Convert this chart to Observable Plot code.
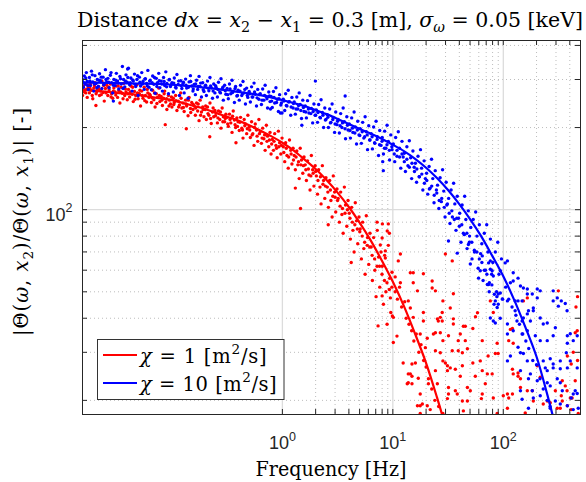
<!DOCTYPE html>
<html><head><meta charset="utf-8">
<script src="https://cdn.jsdelivr.net/npm/d3@7"></script>
<script src="https://cdn.jsdelivr.net/npm/@observablehq/plot@0.6"></script>
<style>
html,body{margin:0;padding:0;background:#fff;}
#chart svg{display:block;}
</style></head><body><div id="chart"></div>
<script>
// ---------- axis ticks ----------
const xMajor = [1, 10, 100];
const xMinor = [2,3,4,5,6,7,8,9,20,30,40,50,60,70,80,90,200,300,400,500];
const yMajor = [100];
const yMinor = [20,30,40,50,60,70,80,90,200,300,400];
const xDomain = [0.0155, 500];
const yDomain = [17.75, 417];

// ---------- fitted curves ----------
const redLineF  = [0.0155,0.02,0.025,0.0316,0.04,0.05,0.063,0.079,0.1,0.126,0.158,0.2,0.251,0.316,0.398,0.5,0.63,0.79,1.0,1.26,1.58,2.0,2.51,3.16,3.98,5.0,6.3,7.9,10,12.6,15.8,20,25.1,31.6];
const redLineV  = [275,273,271,268,266,263,259,256,252,246,240,234,226,219,212,204,195,186,176,165,153,141,128.4,115.5,102.5,89.7,77.2,65.4,54.4,44.3,35.3,27.4,20.5,14.9];
const blueLineF = [0.0155,0.02,0.0316,0.05,0.079,0.1,0.126,0.158,0.2,0.251,0.316,0.398,0.5,0.63,0.79,1.0,1.26,1.58,2.0,2.51,3.16,3.98,5.0,6.3,7.9,10,12.6,15.8,20,25.1,31.6,39.8,50,63,79,100,126,158,200,251,316];
const blueLineV = [292,292,291,290,289,287,285,283,280,277,274,270,267,263,258,252,246,240,232,224,215,206,198,190,182,173,164,154,142.5,130.6,118,105,92.4,80,68,57,46.5,37.2,28.9,20.9,14.5];

// ---------- measured points: chi = 1 ----------
const redNear = [
[0.0155,262],[0.0158,284],[0.0161,270],[0.0164,291],[0.0168,276],[0.0171,258],[0.0175,281],
[0.0179,268],[0.0183,288],[0.0187,274],[0.0192,255],[0.0196,279],[0.0201,292],[0.0206,266],[0.0211,277],[0.0205,241],
[0.0216,283],[0.0221,262],[0.0226,272],[0.0232,296],[0.0238,269],[0.0244,250],[0.0250,278],[0.0257,286],
[0.0263,262],[0.0270,275],[0.0277,289],[0.0284,266],[0.0291,256],[0.0298,279],[0.0306,270],[0.0314,284],
[0.0322,258],[0.0330,273],[0.0338,246],[0.0347,281],[0.0356,267],[0.0365,290],[0.0374,262],[0.0384,270],[0.0394,253],
[0.0404,276],[0.0414,259],[0.0425,284],[0.0436,265],[0.0447,249],[0.0458,271],[0.0470,262],[0.0482,287],[0.0494,255],
[0.0507,266],[0.052,240],[0.0533,272],[0.0547,256],[0.0561,281],[0.0575,262],[0.059,248],[0.0605,268],[0.062,258],
[0.0636,262],[0.0652,247],[0.0669,274],[0.0686,253],[0.0704,238],[0.0722,266],[0.074,258],[0.0759,279],[0.0778,249],
[0.080,260],[0.082,241],[0.084,256],[0.086,272],[0.088,248],[0.090,233],[0.093,262],[0.095,252],[0.097,244],[0.087,205],
[0.100,238],[0.103,256],[0.105,247],[0.108,262],[0.111,231],[0.114,250],[0.117,242],[0.120,268],[0.123,236],
[0.126,246],[0.129,229],[0.133,252],[0.136,240],[0.140,221],[0.143,258],[0.147,235],[0.151,247],[0.155,233],[0.135,198],
[0.159,240],[0.163,222],[0.167,246],[0.171,230],[0.176,212],[0.180,252],[0.185,228],[0.190,238],[0.195,219],
[0.200,233],[0.205,214],[0.210,238],[0.216,222],[0.221,246],[0.227,207],[0.233,228],[0.239,219],[0.245,231],[0.22,185],
[0.251,226],[0.258,208],[0.264,230],[0.271,214],[0.278,199],[0.285,236],[0.292,219],[0.300,210],[0.308,224],
[0.316,218],[0.324,202],[0.332,224],[0.341,208],[0.350,192],[0.359,230],[0.368,213],[0.377,200],[0.387,217],[0.38,176],
[0.397,210],[0.407,195],[0.418,218],[0.429,199],[0.440,183],[0.451,214],[0.463,206],[0.475,190],[0.487,222],
[0.50,201],[0.513,184],[0.526,210],[0.54,190],[0.554,172],[0.568,206],[0.583,196],[0.598,178],[0.613,214],
[0.63,193],[0.646,175],[0.663,199],[0.68,182],[0.698,165],[0.716,204],[0.734,186],[0.753,170],[0.773,192],[0.79,160],
[0.81,181],[0.83,165],[0.852,190],[0.874,172],[0.897,155],[0.92,194],[0.944,176],[0.968,160],[0.993,183],
[1.02,170],[1.05,150],[1.07,176],[1.10,158],[1.13,142],[1.16,180],[1.19,165],[1.22,147],[1.25,168],
[1.28,158],[1.31,140],[1.35,164],[1.38,146],[1.42,130],[1.45,168],[1.49,152],[1.53,136],[1.57,156],[1.31,120],[1.46,101],
[1.61,146],[1.65,128],[1.69,151],[1.74,134],[1.78,118],[1.83,158],[1.88,140],[1.93,122],[1.98,145],
[2.03,133],[2.08,114],[2.13,140],[2.19,121],[2.24,105],[2.30,145],[2.36,128],[2.42,110],[2.48,131],
[2.55,121],[2.61,102],[2.68,128],[2.75,108],[2.82,94],[2.89,133],[2.97,116],[3.04,98],[3.12,119],[2.6,88],
[3.20,110],[3.28,90],[3.37,116],[3.46,96],[3.55,82],[3.64,121],[3.73,104],[3.83,87],[3.93,108],
[4.03,97],[4.13,78],[4.24,102],[4.35,84],[4.46,70],[4.57,106],[4.69,91],[4.81,75],[4.94,94],[4.2,64],
[5.06,85],[5.19,66],[5.33,90],[5.46,72],[5.61,58],[5.75,95],[5.90,79],[6.05,63],[6.21,82],
[6.37,73],[6.53,55],[6.70,79],[6.87,60],[7.05,48],[7.23,84],[7.42,67],[7.61,52],[7.81,70],[7.2,90],
[8.01,62],[8.22,45],[8.43,68],[8.65,50],[8.87,38],[9.1,74],[9.34,56],[9.58,42],[9.83,59],[9.3,82],
[10.5,50],[11,47],[11.5,52],[12,44],[12.8,46],[13.2,40],[14,38],[14.8,36],[15.5,33],[16.3,35],[17.2,30],[18,32],[19,28],[20,26.5],[21,24],[22.5,22],[24,20],[26,19]
];
const redExtra = [
[0.0157,277],[0.0166,268],[0.0173,286],[0.0181,279],[0.0190,262],[0.0199,284],[0.0209,271],[0.0219,276],[0.0229,264],[0.0241,285],
[0.0253,268],[0.0267,281],[0.0281,259],[0.0295,272],[0.0310,263],[0.0326,284],[0.0343,270],[0.0361,255],[0.0379,277],[0.0399,266],
[0.0419,270],[0.0441,281],[0.0464,254],[0.0488,268],[0.0513,274],[0.054,262],[0.0568,251],[0.0598,276],[0.0628,265],[0.0661,257],
[0.0695,268],[0.0731,245],[0.0769,262],[0.081,252],[0.085,266],[0.0895,255],[0.094,240],[0.099,259],
[0.104,243],[0.109,251],[0.115,238],[0.121,256],[0.127,237],[0.134,244],[0.141,252],[0.148,227],[0.156,243],[0.164,236],
[0.173,244],[0.182,222],[0.192,233],[0.202,240],[0.212,225],[0.224,216],[0.236,236],[0.248,221],[0.261,217],[0.275,228],
[0.289,210],[0.304,216],[0.32,206],[0.336,214],[0.354,220],[0.373,205],[0.392,202],[0.413,209],[0.435,196],[0.457,203],[0.481,198],
[0.506,196],[0.532,188],[0.56,200],[0.59,186],[0.62,190],[0.655,183],[0.69,188],[0.725,178],[0.763,180],[0.80,174],
[0.84,178],[0.885,168],[0.93,170],[0.98,172],[1.03,162],[1.085,168],[1.14,156],[1.20,160],[1.26,152],[1.33,156],
[1.40,150],[1.47,146],[1.55,145],[1.63,140],[1.72,141],[1.81,133],[1.9,136],[2.0,138],[2.1,128],[2.21,132],
[2.33,124],[2.45,122],[2.58,116],[2.72,118],[2.86,112],[3.0,111],
[3.16,108],[3.33,103],[3.5,101],[3.69,97],[3.88,100],[4.09,93],[4.3,90],[4.53,88],[4.77,85],[5.02,83],
[5.28,80],[5.56,76],[5.86,74],[6.17,73],[6.49,68],[6.84,66],[7.2,62],[7.58,62],[7.98,58],[8.4,55],[8.85,54],[9.3,51],[9.8,52]
];
const redCloud = [
[8.04,88.7],[9.1,88.7],[8.9,83.5],[8.0,78.7],[7.7,74.2],[8.55,70.6],[8.55,66.5],[11.7,68.8],[11.2,64.9],[10.5,56.7],
[8.0,48.3],[9.5,47.5],[11.7,54],[15.3,58.7],[18.9,58.2],[22.7,51.6],[16.7,50.4],[13.8,46.3],[14.4,43.6],[15.3,40.3],
[18.9,42],[17.7,35],[26.9,40.3],[25.8,39.1],[33.1,43.6],[35.3,38.1],[45.3,37.4],[58.4,41.9],[10.1,40.3],[10.1,32.6],
[12.4,27.4],[16.0,27.4],[13.8,25],[14.9,23],[17.7,21.1],[21.8,18.5],[17.7,19.1],[24.3,25.7],[28.4,27.9],[34.5,30.4],
[39.1,33.1],[42.6,29.9],[31.2,26.8],[31.9,21.1],[38.3,21.1],[50.3,21.7],[47.3,19.9],[61.9,27.9],[71.7,25],[84.7,29.7],
[89.9,29.7],[64.5,21.1],[81.2,20.4],[109,21.1],[123,25],[136,25.2],[165,21.7],[183,21.7],[187,19.9],[109,18.7],
[43.5,18.3],[33.1,26.3],[28.4,33.1],[23.3,35],[18.9,39.1],[24.3,30.4],[40.8,35],[88,32.4],[34.5,64.9],[28,39.1],
[123,32.4],[342,23.6],[378,21.7],[448,23.6],[404,20.4],[477,17.9],[342,19.9],[250,19.9],[308,18.7],[121,36.7],
[35.3,49.2],[28.4,46.3],[28,42],[35.3,39.8],[26.9,35.4],[31.9,34.5],[43.5,37.4],[53,36.7],[45.3,33.1],[64.5,33.1],
[81.2,42],[56,40.5],[76.3,46.3],[39.1,30.4],[47.3,30.9],[31.2,25.7],[36.8,26],[42.6,26.8],[40.8,24.5],[53,27.4],
[72.9,29.1],[79.3,25],[55.8,24.5],[64.5,25.7],[68.7,23],[31.9,22.3],[47.3,22.3],[36.8,21.7],[31.2,20.3],[42.6,19.9],
[63.3,20.3],[100,20.8],[112,20.4],[121,21.1],[143,24],[136,24.5],[121,26],[112,33.1],[116,36.4],[165,47.5],
[152,46.3],[315,50.4],[143,22.3],[203,26.8],[216,24.3],[230,19.4],[266,19.6],[296,21.7],[335,20.8],[420,20.4],
[328,18.7],[380,19.1],[412,18.5],[448,35.4],[467,36],[380,29.1],[412,27.2],[364,22.6],[28.4,17.9],[88,17.9],
[158,18],[29.9,68.8],[7.35,37.5],[9.9,40.8],[10.9,34.4],[14.9,24.5],[13.5,23],[16.7,19.1],[17.7,17.9],
[14.4,58.7],[15.3,54],[22.7,54.8],[24.3,50.4],[25.3,39.8],[24.3,35.4],[20.5,33.8],[19.7,31.2],[26.9,29.9],[29.9,27.4],
[21,23],[25.3,23],[17,24.1],[14.4,25],[14.9,27.2],[13.8,23.2],[18.5,19.4],[20.5,19.1],
[470,48],[455,44],[430,30],[470,28]
];

// ---------- measured points: chi = 10 ----------
const blueNear = [
[0.0155,300],[0.0158,281],[0.0161,309],[0.0164,288],[0.0168,318],[0.0171,296],[0.0175,276],
[0.0179,305],[0.0183,285],[0.0187,322],[0.0192,294],[0.0196,272],[0.0201,310],[0.0206,290],[0.0211,300],
[0.0216,283],[0.0221,315],[0.0226,297],[0.0232,278],[0.0238,306],[0.0244,289],[0.0250,326],[0.0257,294],
[0.0263,303],[0.0270,280],[0.0277,311],[0.0284,292],[0.0291,268],[0.0298,300],[0.0306,285],[0.0314,316],[0.0295,250],
[0.0322,296],[0.0330,277],[0.0338,308],[0.0347,289],[0.0356,335],[0.0365,300],[0.0374,282],[0.0384,312],[0.0394,293],[0.0397,328],
[0.0404,330],[0.0414,287],[0.0425,304],[0.0436,272],[0.0447,296],[0.0458,314],[0.0470,283],[0.0482,300],[0.0494,262],
[0.0507,306],[0.052,284],[0.0533,318],[0.0547,295],[0.0561,276],[0.0575,302],[0.059,290],[0.0605,324],[0.062,281],
[0.0636,298],[0.0652,275],[0.0669,309],[0.0686,288],[0.0704,267],[0.0722,303],[0.074,292],[0.0759,316],[0.0778,280],
[0.080,296],[0.082,272],[0.084,305],[0.086,285],[0.088,320],[0.090,290],[0.093,266],[0.095,300],[0.097,283],
[0.100,292],[0.103,270],[0.105,304],[0.108,281],[0.111,313],[0.114,288],[0.117,262],[0.120,297],[0.123,278],
[0.126,290],[0.129,268],[0.133,301],[0.136,279],[0.140,256],[0.143,294],[0.147,310],[0.151,284],[0.155,272],
[0.159,288],[0.163,264],[0.167,298],[0.171,276],[0.176,308],[0.180,283],[0.185,259],[0.190,292],[0.195,271],
[0.200,284],[0.205,262],[0.210,296],[0.216,273],[0.221,305],[0.227,280],[0.233,256],[0.239,289],[0.245,268],
[0.251,281],[0.258,259],[0.264,293],[0.271,270],[0.278,302],[0.285,277],[0.292,252],[0.300,286],[0.308,265],
[0.316,278],[0.324,255],[0.332,289],[0.341,266],[0.350,298],[0.359,272],[0.368,247],[0.377,283],[0.387,261],
[0.397,274],[0.407,252],[0.418,286],[0.429,262],[0.440,295],[0.451,268],[0.463,244],[0.475,279],[0.487,258],
[0.50,271],[0.513,248],[0.526,282],[0.54,259],[0.554,291],[0.568,265],[0.583,240],[0.598,276],[0.613,254],
[0.63,266],[0.646,243],[0.663,277],[0.68,252],[0.698,286],[0.716,260],[0.734,236],[0.753,270],[0.773,249],[0.78,234],
[0.79,260],[0.81,237],[0.83,271],[0.852,246],[0.874,280],[0.897,254],[0.92,229],[0.944,264],[0.968,242],[0.993,226],[0.96,226],
[1.02,254],[1.05,231],[1.07,266],[1.10,240],[1.13,274],[1.16,249],[1.19,222],[1.22,258],[1.25,236],
[1.28,248],[1.31,224],[1.35,259],[1.38,234],[1.42,268],[1.45,243],[1.49,216],[1.53,252],[1.57,229],[1.5,204],
[1.61,240],[1.65,217],[1.69,251],[1.74,226],[1.78,262],[1.83,235],[1.88,208],[1.93,244],[1.98,222],[1.99,296],
[2.03,232],[2.08,209],[2.13,243],[2.19,218],[2.24,253],[2.30,227],[2.36,200],[2.42,236],[2.48,214],
[2.55,223],[2.61,200],[2.68,234],[2.75,209],[2.82,244],[2.89,218],[2.97,192],[3.04,228],[3.12,205],
[3.20,214],[3.28,191],[3.37,225],[3.46,200],[3.55,236],[3.64,210],[3.73,182],[3.83,219],[3.93,196],[3.7,261],
[4.03,206],[4.13,183],[4.24,217],[4.35,192],[4.46,228],[4.57,201],[4.69,174],[4.81,211],[4.94,188],
[5.06,198],[5.19,175],[5.33,209],[5.46,183],[5.61,219],[5.75,193],[5.90,166],[6.05,203],[6.21,180],
[6.37,190],[6.53,167],[6.70,201],[6.87,175],[7.05,211],[7.23,185],[7.42,158],[7.61,195],[7.81,172],
[8.01,184],[8.22,160],[8.43,194],[8.65,168],[8.87,204],[8.1,150],[9.1,178],[9.34,152],[9.58,188],[9.83,166],[8.2,139],
[10.1,174],[10.4,150],[10.6,184],[10.9,157],[11.2,193],[11.5,168],[11.8,142],[12.1,178],[12.4,156],
[12.7,161],[13.0,138],[13.4,170],[13.7,145],[14.1,179],[14.5,155],[14.8,130],[15.2,164],[15.6,143],
[16.0,148],[16.4,126],[16.9,157],[17.3,132],[17.8,166],[18.2,142],[18.7,118],[19.2,151],[19.7,130],
[20.2,136],[20.7,114],[21.3,144],[21.8,120],[22.4,153],[23.0,130],[23.6,106],[24.2,139],[24.8,118],
[25.4,123],[26.1,101],[26.8,131],[27.5,107],[28.2,140],[28.9,117],[29.7,94],[30.4,126],[31.2,105],
[32.0,110],[32.9,89],[33.7,118],[34.6,94],[35.5,125],[36.4,105],[37.3,84],[38.3,112],[39.3,93],
[40.3,97],[41.4,76],[42.4,104],[43.5,82],[44.7,112],[45.8,92],[47.0,72],[48.2,99],[49.5,80],
[50.8,86],[52.1,66],[53.4,92],[54.8,70],[56.2,98],[57.7,80],[59.2,61],[60.7,88],[62.3,69],
[63.9,75],[65.6,55],[67.3,82],[69.0,60],[70.8,88],[72.6,70],[74.5,50],[76.4,78],[78.4,58],
[80.4,64],[82.5,45],[84.7,70],[86.9,50],[89.1,76],[91.4,58],[93.8,40],[96.2,66],[98.7,47],
[105,52],[112,47],[120,44],[130,41],[140,38],[150,35],[160,33],[170,31],[185,28],[200,27],[215,24],[230,22],[250,20],[265,19]
];
const blueExtra = [
[0.0157,293],[0.0166,304],[0.0173,285],[0.0181,296],[0.0190,312],[0.0199,289],[0.0209,280],[0.0219,298],[0.0229,306],[0.0241,287],
[0.0253,300],[0.0267,293],[0.0281,318],[0.0295,286],[0.0310,298],[0.0326,291],[0.0343,302],[0.0361,278],[0.0379,296],[0.0399,305],
[0.0419,292],[0.0441,299],[0.0464,288],[0.0488,310],[0.0513,293],[0.054,289],[0.0568,301],[0.0598,284],[0.0628,296],[0.0661,292],
[0.0695,305],[0.0731,283],[0.0769,297],[0.081,289],[0.085,295],[0.0895,282],[0.094,299],[0.099,288],
[0.104,291],[0.109,279],[0.115,296],[0.121,285],[0.127,293],[0.134,286],[0.141,281],[0.148,295],[0.156,277],[0.164,289],
[0.173,283],[0.182,291],[0.192,275],[0.202,286],[0.212,279],[0.224,284],[0.236,272],[0.248,285],[0.261,276],[0.275,268],
[0.289,281],[0.304,273],[0.32,264],[0.336,277],[0.354,269],[0.373,278],[0.392,262],[0.413,272],[0.435,266],[0.457,276],[0.481,262],
[0.506,266],[0.532,259],[0.56,270],[0.59,257],[0.62,264],[0.655,252],[0.69,262],[0.725,255],[0.763,261],[0.80,250],
[0.84,258],[0.885,247],[0.93,255],[0.98,246],[1.03,250],[1.085,241],[1.14,248],[1.20,238],[1.26,245],[1.33,234],
[1.40,241],[1.47,231],[1.55,237],[1.63,228],[1.72,234],[1.81,225],[1.9,229],[2.0,222],[2.1,227],[2.21,217],
[2.33,222],[2.45,213],[2.58,218],[2.72,208],[2.86,214],[3.0,206],
[3.16,211],[3.33,203],[3.5,208],[3.69,198],[3.88,204],[4.09,195],[4.3,199],[4.53,191],[4.77,196],[5.02,187],
[5.28,193],[5.56,185],[5.86,188],[6.17,180],[6.49,185],[6.84,176],[7.2,181],[7.58,173],[7.98,178],[8.4,168],
[8.85,173],[9.3,165],[9.8,170],[10.3,160],[10.9,165],[11.5,156],[12.1,160],[12.7,150],[13.4,153],[14.1,143],
[14.9,148],[15.7,138],[16.5,141],[17.4,132],[18.3,135],[19.3,125],[20.3,128],[21.4,119],[22.5,122],[23.7,113],
[25,115],[26.3,108],[27.7,110],[29.2,102],[30.8,104],
[32.4,97],[34.2,99],[36,92],[37.9,93],[40,87],[42.1,88],[44.4,81],[46.8,82],[49.3,76],[51.9,76],
[54.7,71],[57.6,70],[60.7,66],[64,64],[67.4,60],[71,58],[74.8,54],[78.8,53],[83,49],[87.5,48]
];
const blueCloud = [
[38.3,69.3],[50.3,63.2],[59.7,56.1],[71.7,53.2],[64.5,67.7],[76.3,60.5],[81.2,57.1],[94,59.7],[104,63.8],[109,64.9],
[123,58.7],[136,56.1],[143,52.5],[116,54],[94,49.5],[98,47.1],[90,45],[128,46.3],[148,46.3],[165,51.2],
[183,49.1],[203,51.2],[216,50.4],[203,47.5],[169,42.6],[187,42.6],[148,39.1],[176,39.1],[216,40.1],[250,38.4],
[84.7,38.4],[109,38.1],[123,36],[165,36],[195,34.5],[216,33.1],[250,33.1],[283,34.5],[296,36.9],[308,47.5],
[315,44.3],[335,46.3],[378,42.6],[283,50.4],[380,34.5],[380,32.4],[109,27.9],[116,29.1],[136,31.3],[152,29.7],
[143,25.7],[169,24],[143,21.7],[148,20.2],[183,21.7],[230,27.9],[266,28.4],[283,27.2],[240,26.3],[328,26.1],
[380,26.3],[404,27.9],[308,24],[328,23.2],[266,22.6],[250,23.2],[216,20.8],[296,19.9],[328,19.4],[380,19.1],
[448,21.7],[467,21.2],[412,20.4],[477,18.7],[430,18.5],[266,18.7],[187,20.4],[169,18.7],
[283,46.3],[364,45.3],[404,35.1],[430,33.1],[467,34.5],[372,29.9],[467,26.3],[328,27.9],[283,26.3],[342,21.7],
[430,21.1],[203,23.6],[250,25.7],[165,27.9],[176,25],[143,29.9],[148,35],[133,39.1],[152,40.1],[165,41.5],
[187,43.6],[230,38.1],[136,46.3],[128,42.6],[109,46.3],[88,43.8],[84.7,46.3],[76.3,40.1],[73.6,53.2],[79.3,59.7],
[90,49.1],[76.3,64.9],[61.9,59.7],[73.6,63.8],[81.2,39.1],[152,51.6],[165,49.1],[123,54.8],
[31.9,76.8],[48.3,74.5],[109,35]
];

// ---------- text ----------
const legendLabels = ["1", "10"];
const RED = "#ff0000", BLUE = "#0000ff";
const SERIF = "'DejaVu Serif', serif";
const SANS = "'Liberation Sans', Arial, sans-serif";

const W = 586, H = 482, ML = 82, MR = 6, MT = 40, MB = 68;
const innerW = W - ML - MR, innerH = H - MT - MB;

const redLine = redLineF.map((f, i) => ({f, v: redLineV[i]}));
const blueLine = blueLineF.map((f, i) => ({f, v: blueLineV[i]}));
const redPts = redNear.concat(redExtra, redCloud);
const bluePts = blueNear.concat(blueExtra, blueCloud);
const xTicks = xMajor.concat(xMinor);
const yTicks = yMajor.concat(yMinor);
const axisColor = "#262626";

const chart = Plot.plot({
  width: W, height: H,
  marginLeft: ML, marginRight: MR, marginTop: MT, marginBottom: MB,
  x: {type: "log", domain: xDomain, axis: null},
  y: {type: "log", domain: yDomain, axis: null},
  style: {fontFamily: SANS, fontSize: "18px", color: axisColor, background: "#fff", overflow: "visible"},
  marks: [
    Plot.ruleX(xMinor, {x: d => d, stroke: "#bdbdbd", strokeDasharray: "1,3", strokeWidth: 1}),
    Plot.ruleY(yMinor, {y: d => d, stroke: "#bdbdbd", strokeDasharray: "1,3", strokeWidth: 1}),
    Plot.ruleX(xMajor, {x: d => d, stroke: "#dcdcdc", strokeWidth: 1.3}),
    Plot.ruleY(yMajor, {y: d => d, stroke: "#dcdcdc", strokeWidth: 1.3}),
    Plot.dot(redPts, {x: d => d[0], y: d => d[1], r: 1.7, fill: RED, stroke: null, clip: true}),
    Plot.line(redLine, {x: "f", y: "v", stroke: RED, strokeWidth: 2.2, curve: "catmull-rom", clip: true}),
    Plot.dot(bluePts, {x: d => d[0], y: d => d[1], r: 1.7, fill: BLUE, stroke: null, clip: true}),
    Plot.line(blueLine, {x: "f", y: "v", stroke: BLUE, strokeWidth: 2.2, curve: "catmull-rom", clip: true}),
    Plot.frame({stroke: axisColor, strokeWidth: 1}),
    Plot.tickX(xTicks, {x: d => d, insetTop: innerH - 5, stroke: axisColor}),
    Plot.tickX(xTicks, {x: d => d, insetBottom: innerH - 5, stroke: axisColor}),
    Plot.tickY(yTicks, {y: d => d, insetRight: innerW - 5, stroke: axisColor}),
    Plot.tickY(yTicks, {y: d => d, insetLeft: innerW - 5, stroke: axisColor}),
    Plot.text(xMajor, {x: d => d, frameAnchor: "bottom", lineAnchor: "top", dy: 22, fontSize: 18,
      text: d => String(Math.round(Math.log10(d))), fill: axisColor, ariaLabel: () => "x-tick-label"}),
    Plot.text(yMajor, {y: d => d, frameAnchor: "left", textAnchor: "end", lineAnchor: "middle", dx: -10, dy: 5.5, fontSize: 18,
      text: d => String(Math.round(Math.log10(d))), fill: axisColor, ariaLabel: () => "y-tick-label"})
  ]
});
document.getElementById("chart").appendChild(chart);

const svg = d3.select(chart);
svg.selectAll('text[aria-label="x-tick-label"], text[aria-label="y-tick-label"]').each(function () {
  const e = this.textContent;
  const s = d3.select(this).style("font-family", SANS);
  s.text(null);
  s.append("tspan").text("10");
  s.append("tspan").attr("dy", -8.5).attr("font-size", 12.5).text(e);
});

function rich(sel, parts, fs) {
  let shift = 0;
  for (const p of parts) {
    const target = p.sub ? 0.25 * fs : p.sup ? -0.42 * fs : 0;
    const ts = sel.append("tspan").text(p.t).attr("dy", target - shift)
      .attr("font-size", (p.sub || p.sup) ? 0.7 * fs : fs);
    if (p.it) ts.attr("font-style", "italic");
    shift = target;
  }
}
const g = svg.append("g").attr("fill", "#000").attr("text-anchor", "start");

// title
const title = g.append("text").style("font-family", SERIF).attr("x", 330).attr("y", 27).attr("text-anchor", "middle")
  .attr("textLength", 506).attr("lengthAdjust", "spacing");
rich(title, [
  {t: "Distance "}, {t: "dx", it: true}, {t: " = "}, {t: "x", it: true}, {t: "2", sub: true},
  {t: " − "}, {t: "x", it: true}, {t: "1", sub: true}, {t: " = 0.3 [m], "},
  {t: "σ", it: true}, {t: "ω", it: true, sub: true}, {t: " = 0.05 [keV]"}
], 20.5);

// x label
const xl = g.append("text").style("font-family", SERIF).attr("x", 331).attr("y", 475.5).attr("text-anchor", "middle")
  .attr("textLength", 151).attr("lengthAdjust", "spacingAndGlyphs");
rich(xl, [{t: "Frequency [Hz]"}], 19.5);

// y label
const yl = g.append("text").style("font-family", SERIF).attr("transform", "translate(28,222) rotate(-90)").attr("text-anchor", "middle")
  .attr("textLength", 228).attr("lengthAdjust", "spacing");
rich(yl, [
  {t: "|Θ("}, {t: "ω", it: true}, {t: ", "}, {t: "x", it: true}, {t: "2", sub: true}, {t: ")/Θ("},
  {t: "ω", it: true}, {t: ", "}, {t: "x", it: true}, {t: "1", sub: true}, {t: ")| [-]"}
], 19.5);

// legend
const lg = svg.append("g").attr("text-anchor", "start");
lg.append("rect").attr("x", 97.5).attr("y", 339.5).attr("width", 186.5).attr("height", 60)
  .attr("fill", "#fff").attr("stroke", "#333").attr("stroke-width", 1);
const rows = [{c: RED, y: 355, b: 362.5, w: 126.7}, {c: BLUE, y: 383, b: 390.5, w: 136.7}];
rows.forEach((r, i) => {
  lg.append("line").attr("x1", 103).attr("x2", 137).attr("y1", r.y).attr("y2", r.y)
    .attr("stroke", r.c).attr("stroke-width", 2.2);
  const t = lg.append("text").style("font-family", SERIF).attr("x", 140).attr("y", r.b).attr("fill", "#000")
    .attr("text-anchor", "start").attr("textLength", r.w).attr("lengthAdjust", "spacing");
  rich(t, [{t: "χ", it: true}, {t: " = " + legendLabels[i] + " [m"}, {t: "2", sup: true}, {t: "/s]"}], 19.5);
});
</script>
</body></html>
